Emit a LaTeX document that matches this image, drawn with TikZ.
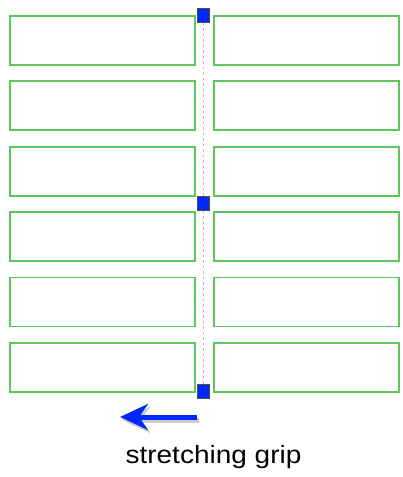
\documentclass[tikz,border=0pt]{standalone}
\usepackage{fontspec}
\setmainfont{Liberation Sans}
\usetikzlibrary{arrows.meta,calc}
\definecolor{boxgreen}{RGB}{90,200,90}
\definecolor{gripblue}{RGB}{0,40,250}
\definecolor{dotorange}{RGB}{245,170,110}
\begin{document}
\begin{tikzpicture}[x=1pt,y=-1pt,
  cell/.style={draw=boxgreen,line width=1.8pt,minimum width=185pt,minimum height=49pt,inner sep=0pt},
  grip/.style={draw=black!70,fill=gripblue,line width=0.8pt,minimum width=12pt,minimum height=14pt,inner sep=0pt},
  dots/.style={dotorange,line width=1.3pt,dash pattern=on 2.5pt off 3pt},
  bigarrow/.style={line width=5pt,-{Stealth[length=28pt,width=26pt,inset=9pt]}}]
\useasboundingbox (0,0) rectangle (402,477);
\foreach \i/\y in {1/15,2/80.4,3/145.8,4/211.2,5/276.6,6/342}{
  \node[cell,anchor=north west] (L\i) at (9,\y) {};
  \node[cell,anchor=north west] (R\i) at (213,\y) {};
}
\node[grip] (g1) at (203.5,15.5) {};
\node[grip] (g2) at (203.5,203.5) {};
\node[grip] (g3) at (203.5,391) {};
\draw[dots] (g1.south) -- (g2.north);
\draw[dots] (g2.south) -- (g3.north);
\coordinate (as) at (197,417);
\coordinate (ae) at (120,417);
\draw[bigarrow,black!40,opacity=0.5] ($(as)+(2,3)$) -- ($(ae)+(2,3)$);
\draw[bigarrow,gripblue] (as) -- (ae);
\node[anchor=base,inner sep=0pt] (lbl) at (213.5,463) {\fontsize{25}{30}\selectfont\scalebox{1.12}[1]{stretching grip}};
\end{tikzpicture}
\end{document}
